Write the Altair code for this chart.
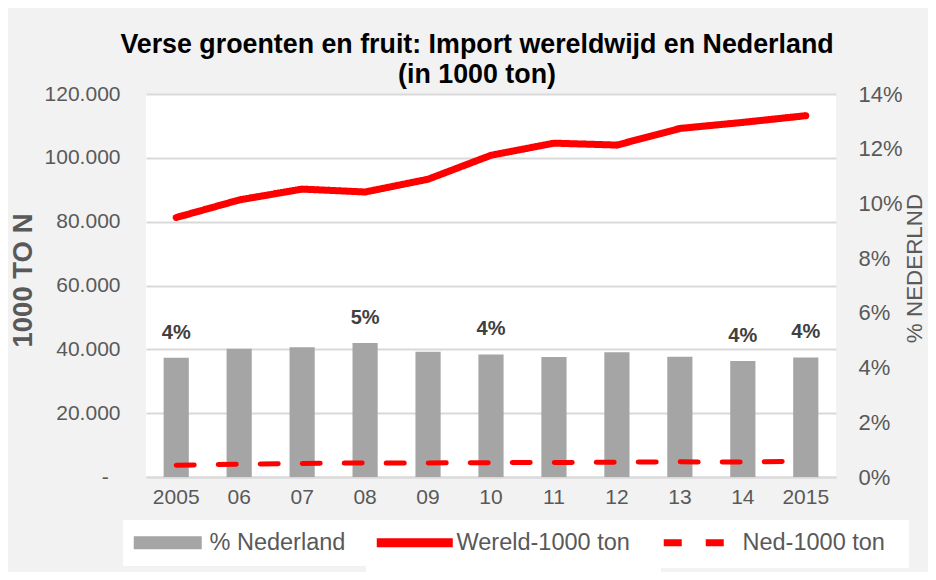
import altair as alt
import pandas as pd

# ---- data ----
years = ["2005", "06", "07", "08", "09", "10", "11", "12", "13", "14", "2015"]
wereld = [81300, 86800, 90200, 89300, 93300, 100800, 104600, 104000, 109200, 111100, 113200]
ned = [3700, 4000, 4250, 4400, 4400, 4500, 4550, 4650, 4750, 4700, 4900]
pct_ned = [0.0436, 0.0469, 0.0474, 0.0490, 0.0458, 0.0448, 0.0439, 0.0456, 0.0440, 0.0424, 0.0437]
bar_labels = ["4%", "", "", "5%", "", "4%", "", "", "", "4%", "4%"]
left_ticks = [0, 20000, 40000, 60000, 80000, 100000, 120000]
right_ticks = [0, 0.02, 0.04, 0.06, 0.08, 0.10, 0.12, 0.14]

df = pd.DataFrame({
    "year": years,
    "wereld": wereld,
    "ned": ned,
    "pct": pct_ned,
    "lab": bar_labels,
    "s_bar": "% Nederland",
    "s_w": "Wereld-1000 ton",
    "s_n": "Ned-1000 ton",
})

FONT = "Liberation Sans"
GREY_TXT = "#595959"
RED = "#ff0000"
NBSP2 = "\u00a0\u00a0"
TAIL3 = "\u00a0\u00a0\u00a0\u200b"   # keeps the white legend boxes touching
TAIL2 = "\u00a0\u00a0\u200b"
LEG_Y = 426

x = alt.X("year:N", sort=years, title=None,
          scale=alt.Scale(paddingInner=0.6, paddingOuter=0.28),
          axis=alt.Axis(labelAngle=0, labelFontSize=21, labelPadding=9, ticks=False,
                        domainColor="#d9d9d9", domainWidth=2, labelColor=GREY_TXT, labelFont=FONT))

right_axis = alt.Axis(orient="right", values=right_ticks, format=".0%", grid=False, ticks=False,
                      domain=False, labelFontSize=22, labelPadding=22, labelColor=GREY_TXT,
                      labelFont=FONT, labelAlign="left",
                      title="% NEDERLND", titleFont=FONT, titleFontSize=22.4, titleFontWeight="normal",
                      titleColor=GREY_TXT, titleAngle=270, titleX=78, titleY=174,
                      titleAlign="center", titleBaseline="middle")
y_pct = alt.Y("pct:Q", scale=alt.Scale(domain=[0, 0.14]), axis=right_axis)

left_axis = alt.Axis(orient="left", values=left_ticks, grid=True, gridColor="#d9d9d9", gridWidth=2,
                     ticks=False, domain=False, labelFontSize=21, labelPadding=26, labelColor=GREY_TXT,
                     labelFont=FONT,
                     labelExpr="datum.value == 0 ? '-" + NBSP2 + "\u200b' : replace(format(datum.value, ','), ',', '.')",
                     title="1000 TO N", titleFont=FONT, titleFontSize=27.5, titleFontWeight="bold",
                     titleColor=GREY_TXT, titleAngle=270, titleX=-123, titleY=186,
                     titleAlign="center", titleBaseline="middle")


def legend(x0, sym_type, sym_size, sym_offset, label_offset, tail, **kw):
    return alt.Legend(title=None, orient="none", legendX=x0, legendY=LEG_Y,
                      symbolType=sym_type, symbolSize=sym_size, symbolOffset=sym_offset,
                      labelOffset=label_offset, labelFontSize=23.5, labelColor=GREY_TXT,
                      labelFont=FONT, labelLimit=400, padding=11, fillColor="white",
                      labelExpr="datum.label + '" + tail + "'", **kw)


base = alt.Chart(df)

bars = base.mark_bar().encode(
    x=x,
    y=y_pct,
    fill=alt.Fill("s_bar:N", scale=alt.Scale(range=["#a5a5a5"]),
                  legend=legend(-23, "M-6.8,-1.3L6.8,-1.3L6.8,1.3L-6.8,1.3Z", 100, 22, 30, TAIL3,
                                symbolStrokeWidth=0)),
)

texts = base.mark_text(fontSize=20, fontWeight="bold", font=FONT, color="#404040",
                       baseline="middle", dy=-25).encode(
    x=x, y=y_pct, text="lab:N")

y_w = alt.Y("wereld:Q", scale=alt.Scale(domain=[0, 120000]), axis=left_axis)
y_n = alt.Y("ned:Q", scale=alt.Scale(domain=[0, 120000]), axis=left_axis)

line_w = base.mark_line(strokeWidth=7, strokeCap="round", strokeJoin="round", color=RED).encode(
    x=x, y=y_w,
    strokeDash=alt.StrokeDash("s_w:N", scale=alt.Scale(range=[[1, 0]]),
                              legend=legend(220, "M-7.6,0L7.6,0", 100, 26, 30, TAIL3,
                                            symbolStrokeWidth=9, symbolStrokeColor=RED)),
)

line_n = base.mark_line(strokeWidth=5, strokeCap="round", color=RED).encode(
    x=x, y=y_n,
    strokeDash=alt.StrokeDash("s_n:N", scale=alt.Scale(range=[[18, 24]]),
                              legend=legend(507, "M-6.6,0L6.6,0", 100, 21, 34, TAIL2,
                                            symbolStrokeWidth=7, symbolStrokeColor=RED)),
)

lines = alt.layer(line_w, line_n).resolve_scale(strokeDash="independent").resolve_legend(
    strokeDash="independent")

chart = alt.layer(
    alt.layer(bars, texts),
    lines,
).resolve_scale(y="independent").properties(
    width=690,
    height=383,
    autosize=alt.AutoSizeParams(type="none"),
    padding={"left": 138, "top": 86, "right": 92, "bottom": 95},
    title=alt.Title(["Verse groenten en fruit: Import wereldwijd en Nederland", "(in 1000 ton)"],
                    font=FONT, fontSize=26.8, fontWeight="bold", color="#000000",
                    lineHeight=30, anchor="middle", dx=-14, offset=-33, baseline="bottom"),
).configure(background="#f2f2f2").configure_view(fill="white", strokeWidth=0)

chart.save("out.html", embed_options={"renderer": "svg", "actions": False})
